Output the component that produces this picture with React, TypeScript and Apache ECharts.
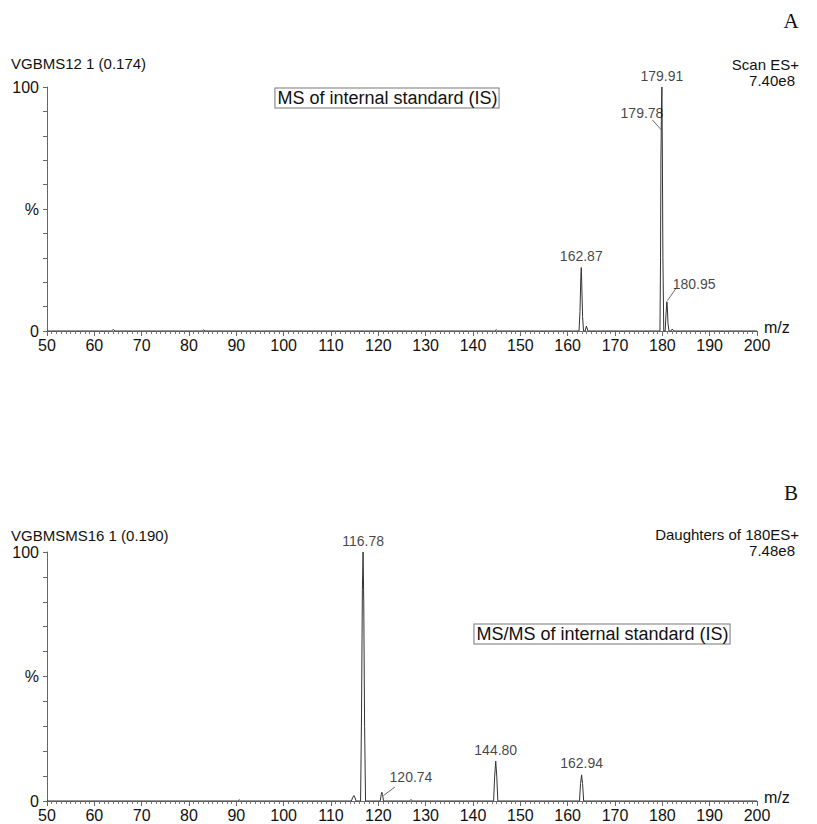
import React, { useEffect, useRef } from "react";
import * as echarts from "echarts";

// Panel A: MS of internal standard — profile points [m/z, %]
const profileA: [number, number][] = [
  [50, 0],
  [63.6, 0], [64, 0.6], [64.4, 0],
  [82.8, 0], [83.1, 0.4], [83.4, 0],
  [144.6, 0], [144.9, 0.5], [145.2, 0],
  [162.4, 0], [162.6, 8], [162.78, 22], [162.87, 26], [162.97, 20], [163.15, 6], [163.35, 0],
  [163.7, 0], [163.95, 2], [164.3, 0],
  [179.5, 0], [179.62, 30], [179.7, 70], [179.78, 84], [179.85, 95], [179.91, 100], [180.0, 75], [180.12, 30], [180.3, 0],
  [180.6, 0], [180.78, 7], [180.95, 12], [181.05, 10], [181.2, 3], [181.4, 0],
  [181.8, 0], [182.1, 0.8], [182.4, 0],
  [200, 0],
];

// Panel B: MS/MS of internal standard
const profileB: [number, number][] = [
  [50, 0],
  [90.3, 0], [90.6, 0.5], [90.9, 0],
  [114.3, 0], [114.6, 1.5], [114.85, 2.2], [115.1, 1.2], [115.3, 0],
  [116.25, 0], [116.45, 35], [116.63, 85], [116.78, 100], [116.92, 80], [117.1, 30], [117.3, 0],
  [120.4, 0], [120.6, 2.5], [120.74, 3.5], [120.9, 2.5], [121.1, 0],
  [126.6, 0], [126.9, 0.6], [127.2, 0],
  [144.35, 0], [144.58, 10], [144.8, 16], [145.02, 10], [145.25, 0],
  [162.5, 0], [162.72, 7], [162.94, 10.5], [163.15, 7], [163.38, 0],
  [200, 0],
];

const peakLabelsA = [
  { text: "179.91", mz: 179.91, pct: 100, pos: "top" },
  { text: "162.87", mz: 162.87, pct: 26, pos: "top" },
  { text: "179.78", mz: 175.7, pct: 89.3, pos: "inside" },
  { text: "180.95", mz: 186.7, pct: 19.3, pos: "inside" },
];
const peakLabelsB = [
  { text: "116.78", mz: 116.78, pct: 100, pos: "top" },
  { text: "144.80", mz: 144.8, pct: 16, pos: "top" },
  { text: "162.94", mz: 162.94, pct: 10.5, pos: "top" },
  { text: "120.74", mz: 126.9, pct: 9.6, pos: "inside" },
];
const leadersA: [number, number][][] = [
  [[177.9, 86.5], [179.75, 82.5]],
  [[182.9, 17.5], [181.1, 12.5]],
];
const leadersB: [number, number][][] = [
  [[123.5, 5.6], [121.1, 2.2]],
];

const FONT = "Liberation Sans, Arial, sans-serif";

function axes(gridIndex: number) {
  const x = {
    type: "value",
    gridIndex,
    min: 50,
    max: 200,
    interval: 10,
    name: "m/z",
    nameLocation: "end",
    nameGap: 7,
    nameTextStyle: { fontFamily: FONT, fontSize: 16, color: "#111", verticalAlign: "bottom", padding: [0, 0, -4, 0] },
    axisLine: { show: true, lineStyle: { color: "#666", width: 1 } },
    axisTick: { show: true, length: 5, lineStyle: { color: "#666" } },
    minorTick: { show: true, splitNumber: 10, length: 3, lineStyle: { color: "#777" } },
    splitLine: { show: false },
    minorSplitLine: { show: false },
    axisLabel: { fontFamily: FONT, fontSize: 16, color: "#111", margin: 6 },
  };
  const y = {
    type: "value",
    gridIndex,
    min: 0,
    max: 100,
    interval: 10,
    axisLine: { show: true, lineStyle: { color: "#666", width: 1 } },
    axisTick: { show: true, length: 4, lineStyle: { color: "#666" } },
    splitLine: { show: false },
    axisLabel: {
      fontFamily: FONT,
      fontSize: 16,
      color: "#111",
      margin: 8,
      formatter: (v: number) => (v === 0 ? "0" : v === 50 ? "%" : v === 100 ? "100" : ""),
    },
  };
  return { x, y };
}

function labelSeries(idx: number, labels: typeof peakLabelsA) {
  return {
    type: "scatter",
    xAxisIndex: idx,
    yAxisIndex: idx,
    symbolSize: 1,
    itemStyle: { color: "rgba(0,0,0,0)" },
    silent: true,
    z: 5,
    data: labels.map((l) => ({
      value: [l.mz, l.pct],
      label: {
        show: true,
        position: l.pos,
        distance: 4,
        formatter: l.text,
        fontFamily: FONT,
        fontSize: 14,
        color: "#111",
      },
    })),
  };
}

function leaderSeries(idx: number, leaders: [number, number][][]) {
  return leaders.map((seg) => ({
    type: "line",
    xAxisIndex: idx,
    yAxisIndex: idx,
    showSymbol: false,
    silent: true,
    lineStyle: { color: "#444", width: 0.8 },
    data: seg,
  }));
}

function profileSeries(idx: number, data: [number, number][]) {
  return {
    type: "line",
    xAxisIndex: idx,
    yAxisIndex: idx,
    showSymbol: false,
    silent: true,
    lineStyle: { color: "#333", width: 1 },
    data,
    z: 3,
  };
}

function headText(text: string, x: number, y: number, align: string, size = 15, family = FONT) {
  return {
    type: "text",
    x,
    y,
    style: { text, fill: "#111", font: `${size}px ${family}`, align, verticalAlign: "middle" },
  };
}

function boxText(text: string, x: number, y: number) {
  return {
    type: "text",
    x,
    y,
    style: {
      text,
      fill: "#111",
      font: `18px ${FONT}`,
      align: "center",
      verticalAlign: "middle",
      borderColor: "#777",
      borderWidth: 1,
      padding: [1, 1, 0, 2],
      backgroundColor: "#fff",
    },
  };
}

export default function App() {
  const ref = useRef<HTMLDivElement>(null);
  useEffect(() => {
    if (!ref.current) return;
    const chart = echarts.init(ref.current, null, { renderer: "svg" });
    const a = axes(0);
    const b = axes(1);
    chart.setOption({
      animation: false,
      backgroundColor: "#fff",
      grid: [
        { left: 47, top: 87, width: 710, height: 244, containLabel: false },
        { left: 47, top: 552, width: 710, height: 249, containLabel: false },
      ],
      xAxis: [a.x, b.x],
      yAxis: [a.y, b.y],
      series: [
        profileSeries(0, profileA),
        profileSeries(1, profileB),
        labelSeries(0, peakLabelsA),
        labelSeries(1, peakLabelsB),
        ...leaderSeries(0, leadersA),
        ...leaderSeries(1, leadersB),
      ],
      graphic: [
        headText("A", 791, 21, "center", 21, "Liberation Serif, serif"),
        headText("VGBMS12 1 (0.174)", 11, 63, "left"),
        headText("Scan ES+", 799, 64, "right"),
        headText("7.40e8", 795, 80, "right"),
        boxText("MS of internal standard (IS)", 387, 98),
        headText("B", 791, 493, "center", 21, "Liberation Serif, serif"),
        headText("VGBMSMS16 1 (0.190)", 11, 535, "left"),
        headText("Daughters of 180ES+", 799, 534, "right"),
        headText("7.48e8", 795, 550, "right"),
        boxText("MS/MS of internal standard (IS)", 602, 634),
      ],
    });
    return () => chart.dispose();
  }, []);
  return (
    <div
      ref={ref}
      style={{ position: "fixed", left: 0, top: 0, width: 817, height: 824, background: "#fff" }}
    />
  );
}
